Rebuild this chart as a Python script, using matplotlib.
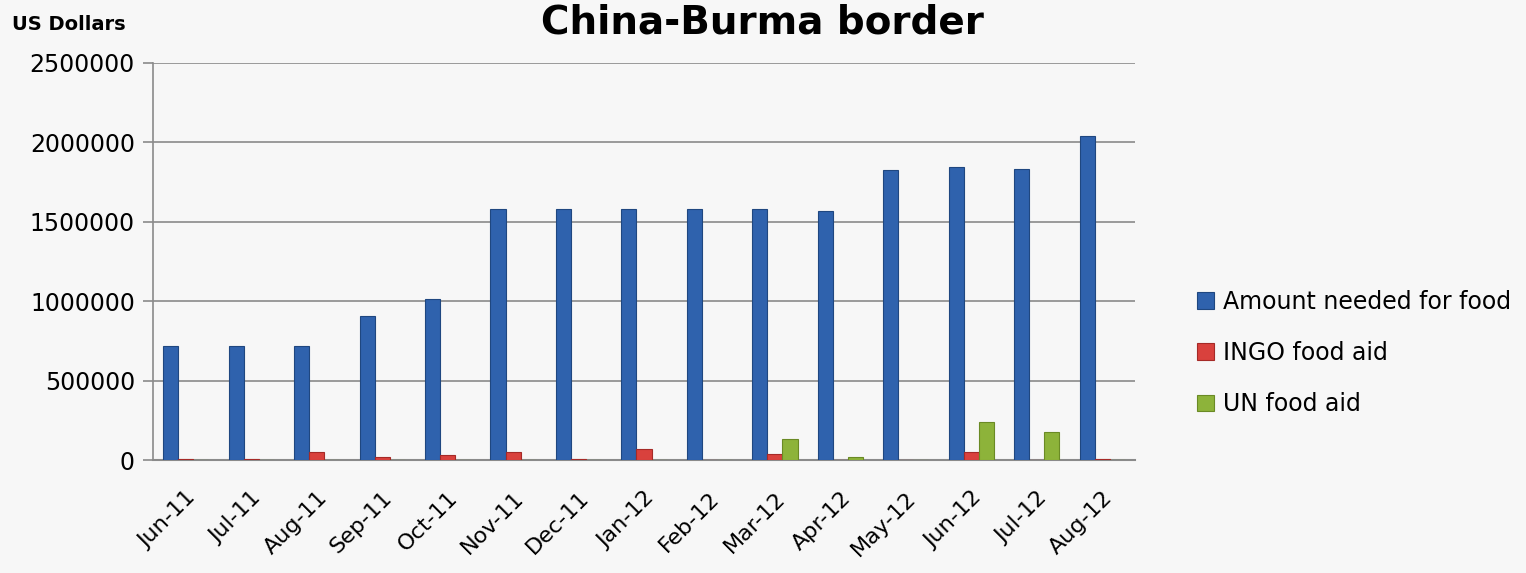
import matplotlib
matplotlib.use("Agg")
import matplotlib.pyplot as plt
import numpy as np

months = ["Jun-11", "Jul-11", "Aug-11", "Sep-11", "Oct-11", "Nov-11", "Dec-11", "Jan-12",
          "Feb-12", "Mar-12", "Apr-12", "May-12", "Jun-12", "Jul-12", "Aug-12"]
needed = [718000, 718000, 718000, 907000, 1014000, 1580000, 1580000, 1580000,
          1580000, 1580000, 1570000, 1828000, 1845000, 1830000, 2040000]
ingo = [8000, 5000, 50000, 20000, 30000, 48000, 8000, 72000,
        0, 40000, 0, 0, 48000, 0, 5000]
un = [0, 0, 0, 0, 0, 0, 0, 0,
      0, 132000, 20000, 0, 240000, 176000, 0]
yticks = [0, 500000, 1000000, 1500000, 2000000, 2500000]

plt.rcParams['font.family'] = ['DejaVu Sans']
bg = "#f7f7f7"
fig = plt.figure(figsize=(15.26, 5.73), dpi=100, facecolor=bg)
ax = fig.add_axes([153/1526, 1-460/573, (1135-153)/1526, (460-63)/573], facecolor=bg)

x = np.arange(len(months))
w = 0.23
ax.bar(x - w, needed, w, color="#2f62ad", edgecolor="#1f4780", linewidth=0.8, label="Amount needed for food", zorder=3)
ax.bar(x, ingo, w, color="#d9413d", edgecolor="#a52a27", linewidth=0.8, label="INGO food aid", zorder=3)
ax.bar(x + w, un, w, color="#8db33a", edgecolor="#6a8a25", linewidth=0.8, label="UN food aid", zorder=3)

ax.set_xlim(-0.5, len(months) - 0.5)
ax.set_ylim(0, 2500000)
ax.set_yticks(yticks)
ax.set_yticklabels([str(v) for v in yticks], fontsize=17)
ax.yaxis.grid(True, color="#8a8a8a", linewidth=1.2, zorder=0)
ax.set_xticks(x)
ax.set_xticklabels(months, rotation=45, ha="right", rotation_mode="anchor", fontsize=16)
ax.tick_params(axis="y", length=7, color="#8a8a8a", width=1.2, pad=6)
ax.tick_params(axis="x", length=0, pad=20)
for s in ["top", "right"]:
    ax.spines[s].set_visible(False)
ax.spines["left"].set_color("#8a8a8a")
ax.spines["left"].set_linewidth(1.2)
ax.spines["bottom"].set_color("#8a8a8a")
ax.spines["bottom"].set_linewidth(1.5)

fig.text(12/1526, 1-30/573, "US Dollars", fontsize=14, fontweight="bold", ha="left", va="baseline")
fig.text(762/1526, 1-3/573, "China-Burma border", fontsize=28, fontweight="bold", ha="center", va="top")

leg = fig.legend(loc="center left", bbox_to_anchor=(1176/1526, 1-353/573), frameon=False,
                 fontsize=17, handlelength=0.7, handleheight=0.7, labelspacing=1.15, handletextpad=0.4)
fig.savefig("out.png", dpi=100, facecolor=bg)
